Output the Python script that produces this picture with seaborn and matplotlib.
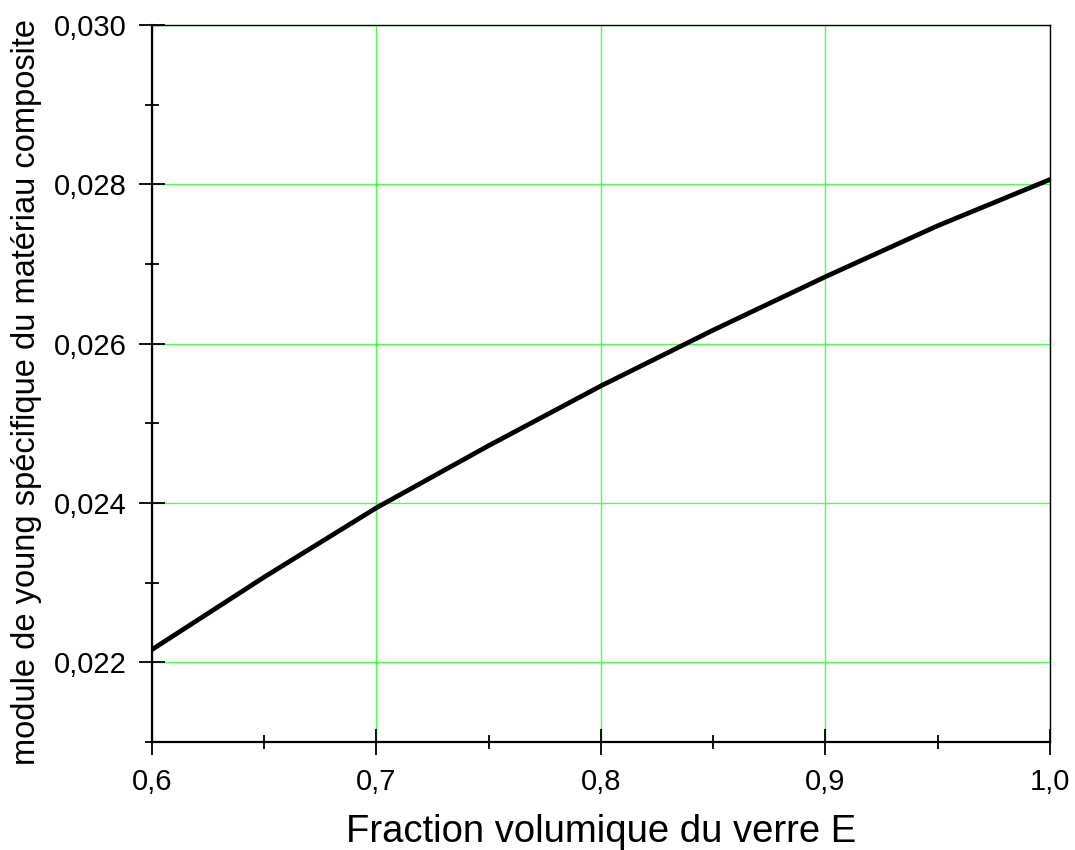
import matplotlib
matplotlib.use("Agg")
import matplotlib.pyplot as plt
from matplotlib.ticker import MultipleLocator, FuncFormatter
import seaborn as sns
import pandas as pd

# Glass fibre volume fraction and specific Young's modulus of the composite
fraction_verre = [0.60, 0.65, 0.70, 0.75, 0.80, 0.85, 0.90, 0.95, 1.00]
module_specifique = [0.02216, 0.02307, 0.02394, 0.02472, 0.02547,
                     0.02617, 0.02684, 0.02748, 0.02806]

x_label = "Fraction volumique du verre E"
y_label = "module de young spécifique du matériau composite"

sns.set_theme(style="ticks")
plt.rcParams["font.family"] = ["Liberation Sans", "DejaVu Sans"]
plt.rcParams["text.color"] = "black"
plt.rcParams["axes.labelcolor"] = "black"
plt.rcParams["xtick.color"] = "black"
plt.rcParams["ytick.color"] = "black"

df = pd.DataFrame({"x": fraction_verre, "y": module_specifique})

fig = plt.figure(figsize=(10.75, 8.5), dpi=100)
ax = fig.add_axes([0.1414, 0.1271, 0.8353, 0.8435])

sns.lineplot(data=df, x="x", y="y", ax=ax, color="black", linewidth=3.4)

ax.set_xlim(0.6, 1.0)
ax.set_ylim(0.021, 0.030)

ax.xaxis.set_major_locator(MultipleLocator(0.1))
ax.xaxis.set_minor_locator(MultipleLocator(0.05))
ax.yaxis.set_major_locator(MultipleLocator(0.002))
ax.yaxis.set_minor_locator(MultipleLocator(0.001))

ax.xaxis.set_major_formatter(FuncFormatter(lambda v, p: f"{v:.1f}".replace(".", ",")))
ax.yaxis.set_major_formatter(FuncFormatter(lambda v, p: f"{v:.3f}".replace(".", ",")))

ax.tick_params(axis="both", which="major", direction="inout", length=19,
               width=1.3, colors="black", labelsize=21, pad=9)
ax.tick_params(axis="both", which="minor", direction="inout", length=10,
               width=1.3, colors="black")

ax.grid(True, which="major", color="#4cff4c", linewidth=1.0)
ax.set_axisbelow(True)

for side in ["left", "bottom"]:
    ax.spines[side].set_linewidth(1.6)
    ax.spines[side].set_color("black")
for side in ["top", "right"]:
    ax.spines[side].set_visible(True)
    ax.spines[side].set_linewidth(1.0)
    ax.spines[side].set_color("black")

ax.set_xlabel(x_label, fontsize=27.5, labelpad=13)
ax.set_ylabel(y_label, fontsize=23.5)
ax.yaxis.set_label_coords(-0.122, 0.488)

fig.savefig("out.png", dpi=100, facecolor="white")
